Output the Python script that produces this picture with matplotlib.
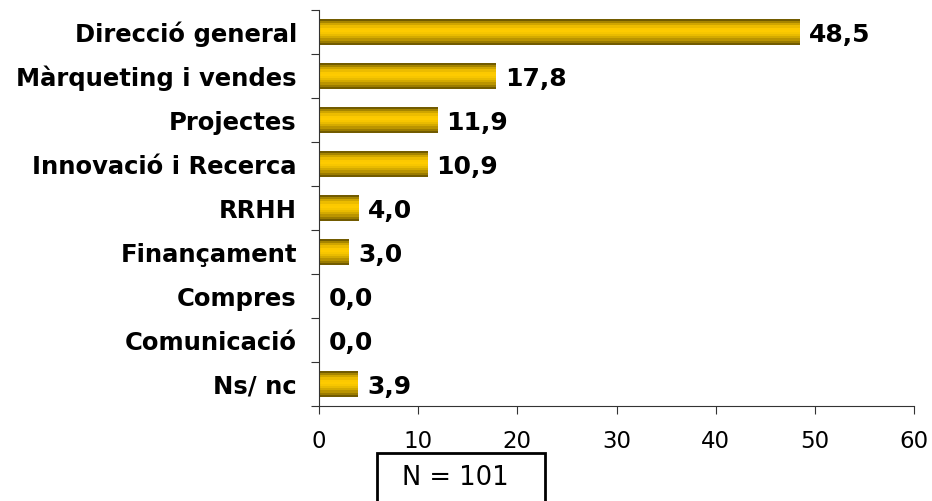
import matplotlib
matplotlib.use("Agg")
import matplotlib.pyplot as plt
import numpy as np
from matplotlib.patches import Rectangle

categories = ["Direcció general", "Màrqueting i vendes", "Projectes",
              "Innovació i Recerca", "RRHH", "Finançament", "Compres",
              "Comunicació", "Ns/ nc"]
values = [48.5, 17.8, 11.9, 10.9, 4.0, 3.0, 0.0, 0.0, 3.9]
value_labels = ["48,5", "17,8", "11,9", "10,9", "4,0", "3,0", "0,0", "0,0", "3,9"]
x_ticks = [0, 10, 20, 30, 40, 50, 60]
n_text = "N = 101"

fig = plt.figure(figsize=(9.32, 5.01), dpi=100)
ax = fig.add_axes([0.3423, 0.1896, 0.6384, 0.7904])

# gold gradient in bands: dark at top and bottom, bright a bit above middle
t = np.linspace(0, 1, 12)
b = np.where(t < 0.42, np.sin(np.pi / 2 * t / 0.42), np.cos(np.pi / 2 * (t - 0.42) / 0.58))
b = np.clip(b, 0, 1) ** 0.9
dark = np.array([0.45, 0.36, 0.0])
bright = np.array([1.0, 0.80, 0.0])
grad = dark[None, :] + (bright - dark)[None, :] * b[:, None]
grad = grad[:, None, :]

h = 0.58
pos = np.arange(len(categories))
for i, v in enumerate(values):
    if v > 0:
        ax.imshow(grad, extent=(0, v, pos[i] + h / 2, pos[i] - h / 2),
                  aspect="auto", interpolation="nearest", zorder=2)
    ax.text(v + 0.95, pos[i] + 0.06, value_labels[i], va="center", ha="left",
            fontsize=18, fontweight="bold", zorder=3)

ax.set_xlim(0, 60)
ax.set_ylim(len(categories) - 0.5, -0.5)
ax.set_xticks(x_ticks)
ax.set_xticklabels([str(x) for x in x_ticks], fontsize=16.5)
ax.set_yticks(np.arange(len(categories) + 1) - 0.5)
ax.set_yticklabels([])
ax.set_yticks(pos, minor=True)
ax.set_yticklabels(categories, minor=True, fontsize=17.5, fontweight="bold")
ax.tick_params(axis="y", which="minor", length=0, pad=16)
ax.tick_params(axis="y", which="major", length=6, direction="out", color="#333333")
ax.tick_params(axis="x", length=6, direction="out", pad=11, color="#333333")
ax.spines["top"].set_visible(False)
ax.spines["right"].set_visible(False)
ax.spines["left"].set_color("#333333")
ax.spines["bottom"].set_color("#333333")

fig.patches.append(Rectangle((377 / 932, -0.05), 168 / 932, 0.05 + 48 / 501,
                             transform=fig.transFigure, fill=False,
                             edgecolor="black", linewidth=2))
fig.text(455 / 932, 1 - 478 / 501, n_text, ha="center", va="center", fontsize=18.5)

fig.savefig("out.png", dpi=100)
